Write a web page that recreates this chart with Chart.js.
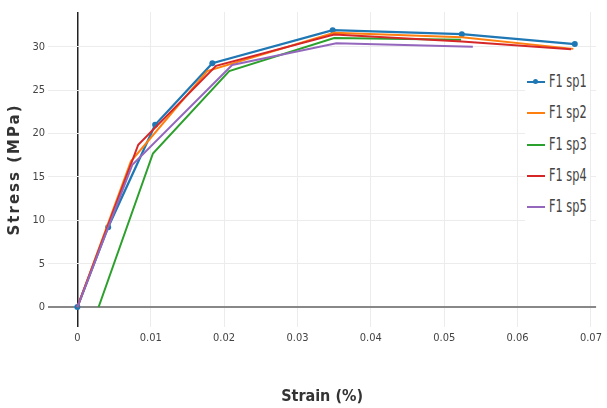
<!DOCTYPE html>
<html>
<head>
<meta charset="utf-8">
<script src="https://cdn.jsdelivr.net/npm/chart.js@4/dist/chart.umd.min.js"></script>
<style>
  html, body { margin: 0; padding: 0; background: #fff; }
  #wrap { position: relative; width: 607px; height: 408px; }
  #legend { position: absolute; left: 525px; top: 68px; width: 65px; height: 154px; background: #fff; }
  .item { position: absolute; left: 0; height: 20px; width: 65px; }
  .swatch { position: absolute; left: 2px; top: 9px; width: 18px; height: 2px; }
  .dot { position: absolute; left: 8px; top: 7px; width: 5px; height: 5px; border-radius: 50%; }
  .lbl { position: absolute; left: 24px; top: -2px; font-family: "Liberation Sans Narrow", "DejaVu Sans Condensed", sans-serif; font-size: 18px; color: #444; white-space: nowrap; transform-origin: left center; transform: scaleX(0.7); }
</style>
</head>
<body>
<div id="wrap">
  <canvas id="c" width="607" height="408"></canvas>
  <div id="legend"></div>
</div>
<script>
// ---- data ----
const seriesNames = ["F1 sp1", "F1 sp2", "F1 sp3", "F1 sp4", "F1 sp5"];
const seriesColors = ["#1f77b4", "#ff7f0e", "#2ca02c", "#d62728", "#9467bd"];

const strainSp1 = [0, 0.0042, 0.0106, 0.0184, 0.0348, 0.0524, 0.0678];
const stressSp1 = [0, 9.2, 21.0, 28.1, 31.9, 31.45, 30.3];

const strainSp2 = [0, 0.0073, 0.0177, 0.0350, 0.0524, 0.0676];
const stressSp2 = [0, 16.8, 27.2, 31.6, 31.1, 29.75];

const strainSp3 = [0.0029, 0.0103, 0.0207, 0.0350, 0.0523];
const stressSp3 = [0, 17.7, 27.2, 31.0, 30.8];

const strainSp4 = [0, 0.0083, 0.0189, 0.0350, 0.0524, 0.0673];
const stressSp4 = [0, 18.7, 27.8, 31.4, 30.6, 29.7];

const strainSp5 = [0, 0.0075, 0.0211, 0.0353, 0.0539];
const stressSp5 = [0, 16.4, 27.9, 30.4, 30.0];

const xTicks = [0, 0.01, 0.02, 0.03, 0.04, 0.05, 0.06, 0.07];
const yTicks = [0, 5, 10, 15, 20, 25, 30];

const xTitle = "Strain (%)";
const yTitle = "Stress (MPa)";

// ---- build ----
const strains = [strainSp1, strainSp2, strainSp3, strainSp4, strainSp5];
const stresses = [stressSp1, stressSp2, stressSp3, stressSp4, stressSp5];

const datasets = seriesNames.map((name, i) => ({
  label: name,
  data: strains[i].map((x, j) => ({ x: x, y: stresses[i][j] })),
  borderColor: seriesColors[i],
  backgroundColor: seriesColors[i],
  borderWidth: i === 0 ? 2.3 : 2,
  pointRadius: i === 0 ? 3 : 0,
  pointBorderWidth: 0,
  pointHoverRadius: i === 0 ? 3 : 0,
  tension: 0,
  fill: false,
  order: seriesNames.length - i
}));

const tickFont = { family: "'Liberation Sans Narrow', 'DejaVu Sans Condensed', sans-serif", size: 11 };

// letter-spaced y-axis title (drawn by Chart.js itself)
const spacedTitle = {
  id: 'spacedTitle',
  beforeDraw(chart) {
    const s = chart.scales.y;
    if (s && !s._spaced) {
      const orig = s.drawTitle;
      s.drawTitle = function () {
        const c = this.ctx;
        const prev = c.letterSpacing;
        c.letterSpacing = '2px';
        orig.apply(this, arguments);
        c.letterSpacing = prev || '0px';
      };
      s._spaced = true;
    }
  }
};

new Chart(document.getElementById('c'), {
  type: 'line',
  data: { datasets: datasets },
  plugins: [spacedTitle],
  options: {
    responsive: false,
    animation: false,
    events: [],
    layout: { padding: { top: 12, right: 4, left: 0, bottom: 0 } },
    plugins: { legend: { display: false }, tooltip: { enabled: false } },
    scales: {
      x: {
        type: 'linear',
        min: -0.0040,
        max: 0.0707,
        afterBuildTicks: (axis) => { axis.ticks = xTicks.map(v => ({ value: v })); },
        afterFit: (axis) => { axis.height = 81; },
        border: { display: false },
        grid: {
          drawTicks: false,
          color: (ctx) => (ctx.tick && ctx.tick.value === 0) ? '#222' : '#ececec',
          lineWidth: (ctx) => (ctx.tick && ctx.tick.value === 0) ? 1.5 : 1
        },
        ticks: { color: '#444', font: tickFont, padding: 5, maxRotation: 0, autoSkip: false,
                 callback: (v) => String(v) },
        title: { display: true, text: xTitle, color: '#333',
                 font: { family: "'Liberation Sans Narrow', 'DejaVu Sans Condensed', sans-serif", size: 16, weight: 'bold' },
                 padding: { top: 0, bottom: 2 } }
      },
      y: {
        type: 'linear',
        min: -2.3,
        max: 34.0,
        afterBuildTicks: (axis) => { axis.ticks = yTicks.map(v => ({ value: v })); },
        afterFit: (axis) => { axis.width = 48; },
        border: { display: false },
        grid: {
          drawTicks: false,
          color: (ctx) => (ctx.tick && ctx.tick.value === 0) ? '#888' : '#ececec',
          lineWidth: (ctx) => (ctx.tick && ctx.tick.value === 0) ? 2 : 1
        },
        ticks: { color: '#444', font: tickFont, padding: 3, callback: (v) => String(v) },
        title: { display: true, text: yTitle, color: '#333',
                 font: { family: "'DejaVu Sans', sans-serif", size: 15, weight: 'bold' },
                 padding: { top: 6, bottom: 0 } }
      }
    }
  }
});

// ---- HTML legend built from the series arrays ----
const legendRows = [14, 45, 77, 108, 139];
const legend = document.getElementById('legend');
seriesNames.forEach((name, i) => {
  const item = document.createElement('div');
  item.className = 'item';
  item.style.top = (legendRows[i] - 10) + 'px';
  const sw = document.createElement('div');
  sw.className = 'swatch';
  sw.style.background = seriesColors[i];
  item.appendChild(sw);
  if (i === 0) {
    const d = document.createElement('div');
    d.className = 'dot';
    d.style.background = seriesColors[i];
    item.appendChild(d);
  }
  const t = document.createElement('div');
  t.className = 'lbl';
  t.textContent = name;
  item.appendChild(t);
  legend.appendChild(item);
});
</script>
</body>
</html>
